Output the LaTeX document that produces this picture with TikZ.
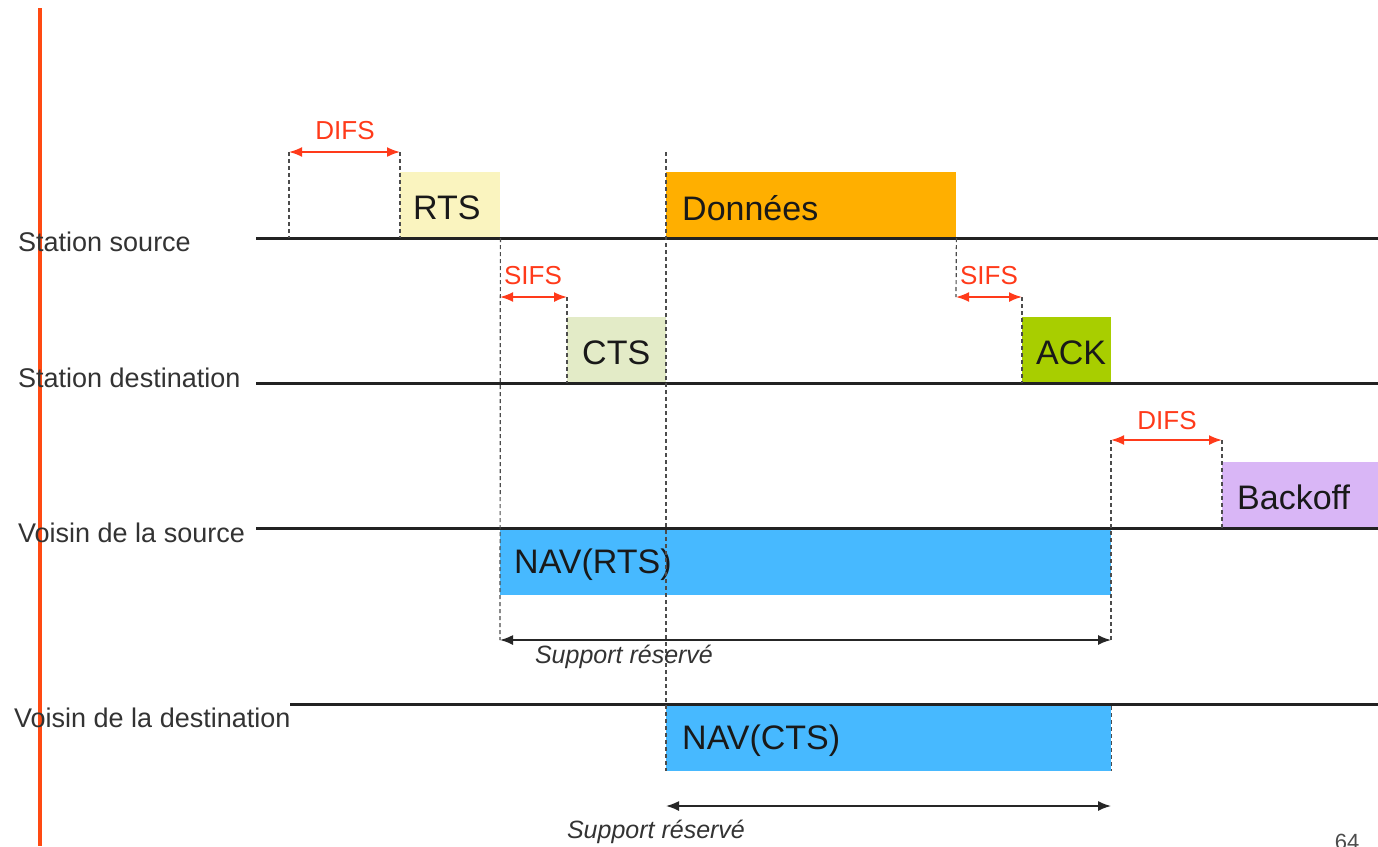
\documentclass[tikz,border=0pt]{standalone}
\usepackage{fontspec}
\setmainfont{Liberation Sans}
\usetikzlibrary{arrows.meta}
\definecolor{axisred}{HTML}{FF4A12}
\definecolor{ifsred}{HTML}{FF3A1A}
\definecolor{rtsfill}{HTML}{FAF4BF}
\definecolor{ctsfill}{HTML}{E3EBC7}
\definecolor{datafill}{HTML}{FFAF00}
\definecolor{ackfill}{HTML}{A8CE00}
\definecolor{backfill}{HTML}{D9B6F6}
\definecolor{navfill}{HTML}{47B9FF}
\definecolor{linegray}{HTML}{222222}
\tikzset{
  frame/.style={draw=none, rectangle, inner sep=0pt, anchor=south west},
  boxtext/.style={inner sep=0pt, anchor=west, font=\fontsize{34}{36}\selectfont, text=black!90},
  rowlabel/.style={inner sep=0pt, anchor=west, font=\fontsize{27}{30}\selectfont, text=black!80},
  timeline/.style={draw=linegray, line width=3pt},
  guide/.style={draw=black!70, line width=1.2pt, dash pattern=on 4pt off 3pt},
  ifs/.style={draw=ifsred, line width=1.8pt, {Latex[length=13pt,width=10pt]}-{Latex[length=13pt,width=10pt]}},
  ifslabel/.style={inner sep=0pt, text=ifsred, font=\fontsize{26}{28}\selectfont},
  span/.style={draw=black!85, line width=1.6pt, {Latex[length=13pt,width=10pt]}-{Latex[length=13pt,width=10pt]}},
  spanlabel/.style={inner sep=0pt, text=black!80, font=\fontsize{25}{27}\selectfont\itshape}
}
\begin{document}
\begin{tikzpicture}[x=1pt,y=-1pt]
\useasboundingbox (0,0) rectangle (1378,846);
\fill[white] (0,0) rectangle (1378,846);

% time axis on the left
\coordinate (axtop) at (40,8);
\coordinate (axbot) at (40,846);
\draw[axisred, line width=4pt] (axtop) -- (axbot);

% frames
\node[frame, fill=rtsfill, minimum width=100pt, minimum height=66pt] (rts) at (400,238) {};
\node[frame, fill=datafill, minimum width=290pt, minimum height=66pt] (data) at (666,238) {};
\node[frame, fill=ctsfill, minimum width=99pt, minimum height=66pt] (cts) at (567,383) {};
\node[frame, fill=ackfill, minimum width=89pt, minimum height=66pt] (ack) at (1022,383) {};
\node[frame, fill=backfill, minimum width=160pt, minimum height=66pt] (backoff) at (1222,528) {};
\node[frame, fill=navfill, minimum width=611pt, minimum height=65pt, anchor=north west] (navrts) at (500,530) {};
\node[frame, fill=navfill, minimum width=445pt, minimum height=65pt, anchor=north west] (navcts) at (666,706) {};

\node[boxtext] (trts) at ([xshift=13pt,yshift=-3pt]rts.west) {RTS};
\node[boxtext] (tdata) at ([xshift=16pt,yshift=-3pt]data.west) {Données};
\node[boxtext] (tcts) at ([xshift=15pt,yshift=-3pt]cts.west) {CTS};
\node[boxtext] (tack) at ([xshift=14pt,yshift=-3pt]ack.west) {ACK};
\node[boxtext] (tback) at ([xshift=15pt,yshift=-3pt]backoff.west) {Backoff};
\node[boxtext] (tnavrts) at ([xshift=14pt,yshift=-2pt]navrts.west) {NAV(RTS)};
\node[boxtext] (tnavcts) at ([xshift=16pt,yshift=-2pt]navcts.west) {NAV(CTS)};

% station time lines
\coordinate (srcA) at (256,238);   \coordinate (srcB) at (1378,238);
\coordinate (dstA) at (256,383);   \coordinate (dstB) at (1378,383);
\coordinate (vsA) at (256,528);    \coordinate (vsB) at (1378,528);
\coordinate (vdA) at (290,704);    \coordinate (vdB) at (1378,704);
\draw[timeline] (srcA) -- (srcB);
\draw[timeline] (dstA) -- (dstB);
\draw[timeline] (vsA) -- (vsB);
\draw[timeline] (vdA) -- (vdB);

\node[rowlabel] (lsrc) at (18,242) {Station source};
\node[rowlabel] (ldst) at (18,378) {Station destination};
\node[rowlabel] (lvs) at (18,533) {Voisin de la source};
\node[rowlabel] (lvd) at (14,718) {Voisin de la destination};

% guide marks
\coordinate (d1a) at (289,152);  \coordinate (d1b) at (400,152);
\coordinate (s1a) at (500,297);  \coordinate (s1b) at (567,297);
\coordinate (s2a) at (956,297);  \coordinate (s2b) at (1022,297);
\coordinate (d2a) at (1111,440); \coordinate (d2b) at (1222,440);
\coordinate (r1a) at (500,640);  \coordinate (r1b) at (1111,640);
\coordinate (r2a) at (666,806);  \coordinate (r2b) at (1111,806);
\coordinate (mid) at (666,152);

\draw[guide] (d1a) -- (289,238);
\draw[guide] (d1b) -- (rts.south west);
\draw[guide] (rts.south east) -- (r1a);
\draw[guide] (s1b) -- (cts.south west);
\draw[guide] (mid) -- (navcts.south west);
\draw[guide] (data.south east) -- (s2a);
\draw[guide] (s2b) -- (ack.south west);
\draw[guide] (d2a) -- (r1b);
\draw[guide] (navcts.north east) -- (navcts.south east);
\draw[guide] (d2b) -- (backoff.south west);

% inter-frame spaces
\draw[ifs] (d1a) -- (d1b);
\draw[ifs] (s1a) -- (s1b);
\draw[ifs] (s2a) -- (s2b);
\draw[ifs] (d2a) -- (d2b);
\node[ifslabel] (ldifs1) at (345,131) {DIFS};
\node[ifslabel] (lsifs1) at (533,276) {SIFS};
\node[ifslabel] (lsifs2) at (989,276) {SIFS};
\node[ifslabel] (ldifs2) at (1167,421) {DIFS};

% reserved medium
\draw[span] (r1a) -- (r1b);
\draw[span] (r2a) -- (r2b);
\node[spanlabel] (sup1) at (624,657) {Support réservé};
\node[spanlabel] (sup2) at (656,832) {Support réservé};

\node[inner sep=0pt, anchor=north, text=black!70, font=\fontsize{22}{24}\selectfont] (page) at (1347,834) {64};
\end{tikzpicture}
\end{document}
